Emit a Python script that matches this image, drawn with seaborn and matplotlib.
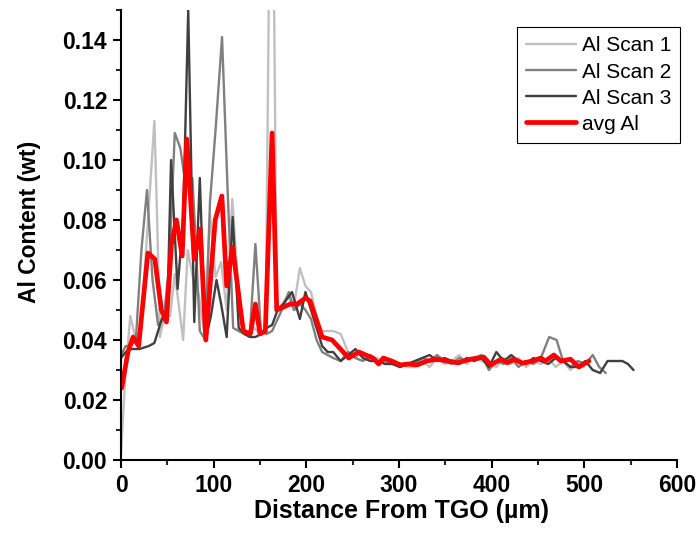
import matplotlib
matplotlib.use("Agg")
import matplotlib.pyplot as plt
import seaborn as sns
import pandas as pd
from matplotlib.ticker import MultipleLocator, FormatStrFormatter

# ---------------- data ----------------
scan1_x = [0, 5, 10, 16, 22, 28, 36, 39, 42, 48, 53, 58, 63, 67, 72, 78, 84, 90, 96, 102, 108,
           114, 120, 126, 132, 138, 144, 150, 156, 162.5, 168, 174, 180, 186, 193, 199, 205, 211,
           217, 223, 229, 237, 245, 253, 261, 269, 277, 285, 293, 301, 309, 317, 325, 333, 341,
           349, 357, 365, 373, 381, 389, 397, 405, 413, 421, 429, 437, 445, 453, 461, 469, 477,
           485, 493, 500]
scan1_y = [0.002, 0.030, 0.048, 0.040, 0.045, 0.075, 0.113, 0.080, 0.041, 0.050, 0.048, 0.062,
           0.050, 0.040, 0.070, 0.060, 0.055, 0.042, 0.082, 0.061, 0.066, 0.050, 0.087, 0.060,
           0.043, 0.042, 0.044, 0.042, 0.043, 0.250, 0.050, 0.052, 0.055, 0.050, 0.064, 0.058,
           0.056, 0.048, 0.043, 0.043, 0.043, 0.042, 0.036, 0.034, 0.036, 0.033, 0.034, 0.032,
           0.033, 0.032, 0.031, 0.031, 0.033, 0.031, 0.034, 0.032, 0.033, 0.035, 0.032, 0.034,
           0.033, 0.032, 0.031, 0.034, 0.032, 0.034, 0.031, 0.033, 0.032, 0.034, 0.031, 0.033,
           0.030, 0.033, 0.031]

scan2_x = [0, 5, 10, 16, 22, 28, 34, 40, 46, 52, 58, 64, 69, 77, 81, 85, 91, 96, 102, 109, 115,
           121, 127, 133, 139, 145, 151, 157, 163, 169, 175, 181, 187, 193, 199, 205, 211, 217,
           223, 229, 237, 245, 253, 261, 269, 277, 285, 293, 301, 309, 317, 325, 333, 341, 349,
           357, 365, 373, 381, 389, 397, 405, 413, 421, 429, 437, 445, 453, 462, 470, 477, 485,
           493, 501, 509, 516, 523]
scan2_y = [0.035, 0.038, 0.038, 0.040, 0.070, 0.090, 0.060, 0.045, 0.047, 0.065, 0.109, 0.104,
           0.093, 0.094, 0.070, 0.043, 0.040, 0.086, 0.110, 0.141, 0.090, 0.044, 0.043, 0.042,
           0.042, 0.072, 0.043, 0.042, 0.043, 0.047, 0.051, 0.056, 0.050, 0.052, 0.050, 0.047,
           0.040, 0.036, 0.035, 0.034, 0.033, 0.036, 0.034, 0.033, 0.035, 0.032, 0.033, 0.032,
           0.031, 0.032, 0.032, 0.034, 0.033, 0.035, 0.033, 0.032, 0.034, 0.033, 0.034, 0.035,
           0.030, 0.033, 0.032, 0.034, 0.031, 0.033, 0.032, 0.034, 0.041, 0.040, 0.033, 0.031,
           0.033, 0.032, 0.035, 0.031, 0.029]

scan3_x = [0, 5, 10, 20, 30, 36, 44, 50, 54, 61, 67, 72.5, 79, 85, 91, 97, 103, 108, 114, 120.5,
           127, 133, 139, 145, 151, 157, 163, 169, 175, 184.5, 193, 199, 205, 211, 217, 223, 229,
           237, 245, 253, 261, 269, 277, 285, 293, 301, 309, 317, 325, 333, 341, 349, 357, 365,
           373, 381, 389, 397, 405, 413, 421, 429, 437, 445, 453, 461, 469, 477, 485, 493, 501,
           509, 517, 525, 533, 541, 547, 553]
scan3_y = [0.034, 0.036, 0.037, 0.037, 0.038, 0.039, 0.047, 0.050, 0.100, 0.057, 0.080, 0.150,
           0.046, 0.094, 0.040, 0.048, 0.060, 0.052, 0.041, 0.081, 0.044, 0.042, 0.041, 0.041,
           0.042, 0.044, 0.045, 0.050, 0.052, 0.056, 0.047, 0.056, 0.050, 0.044, 0.038, 0.036,
           0.036, 0.033, 0.035, 0.037, 0.034, 0.033, 0.033, 0.032, 0.032, 0.031, 0.032, 0.033,
           0.034, 0.035, 0.033, 0.034, 0.033, 0.032, 0.034, 0.033, 0.034, 0.031, 0.036, 0.033,
           0.035, 0.033, 0.032, 0.034, 0.033, 0.032, 0.034, 0.033, 0.031, 0.031, 0.033, 0.030,
           0.029, 0.033, 0.033, 0.033, 0.032, 0.030]

avg_x = [0.7, 7.5, 13, 19, 29, 36.4, 43.6, 49, 54.4, 59.8, 66, 71, 79, 85.4, 91.5, 101.6, 108.8,
         114, 120.4, 128.6, 132, 139.5, 145, 150, 155.7, 163, 168, 175.5, 182.7, 190, 199, 204,
         217, 227.8, 236.7, 245.7, 256.5, 264, 272, 278, 283, 292, 301.6, 310, 319.6, 330, 341,
         352, 363, 377, 391.5, 399, 410, 417, 424, 433, 444, 453, 458, 467, 474.6, 485, 494, 505]
avg_y = [0.024, 0.036, 0.041, 0.038, 0.069, 0.067, 0.050, 0.046, 0.072, 0.080, 0.068, 0.107,
         0.067, 0.077, 0.040, 0.080, 0.088, 0.058, 0.071, 0.051, 0.043, 0.042, 0.052, 0.042,
         0.043, 0.109, 0.050, 0.051, 0.052, 0.052, 0.054, 0.053, 0.041, 0.040, 0.037, 0.034,
         0.036, 0.035, 0.034, 0.032, 0.034, 0.033, 0.0317, 0.032, 0.0317, 0.033, 0.0336, 0.033,
         0.0324, 0.0336, 0.0343, 0.0317, 0.0336, 0.0324, 0.0336, 0.0323, 0.033, 0.034, 0.033,
         0.035, 0.033, 0.0336, 0.031, 0.033]

series_names = ["Al Scan 1", "Al Scan 2", "Al Scan 3", "avg Al"]
series_colors = ["#c0c0c0", "#808080", "#404040", "#ff0000"]
series_widths = [1.7, 1.7, 1.7, 3.4]

x_label = "Distance From TGO (\u00b5m)"
y_label = "Al Content (wt)"

# ---------------- plot ----------------
sns.set_style("ticks")
plt.rcParams["font.family"] = ["Liberation Sans", "DejaVu Sans"]
plt.rcParams["text.color"] = "black"
plt.rcParams["axes.labelcolor"] = "black"

fig = plt.figure(figsize=(6.98, 5.44), dpi=100)
ax = fig.add_axes([0.1734, 0.1544, 0.7966, 0.8272])

data = [(scan1_x, scan1_y), (scan2_x, scan2_y), (scan3_x, scan3_y), (avg_x, avg_y)]
for (xs, ys), name, col, lw in zip(data, series_names, series_colors, series_widths):
    df = pd.DataFrame({"x": xs, "y": ys})
    sns.lineplot(data=df, x="x", y="y", ax=ax, color=col, linewidth=lw, label=name,
                 sort=False, estimator=None)

ax.set_xlim(0, 600)
ax.set_ylim(0, 0.15)
ax.xaxis.set_major_locator(MultipleLocator(100))
ax.xaxis.set_minor_locator(MultipleLocator(50))
ax.yaxis.set_major_locator(MultipleLocator(0.02))
ax.yaxis.set_minor_locator(MultipleLocator(0.01))
ax.yaxis.set_major_formatter(FormatStrFormatter("%.2f"))

for s in ["top", "right"]:
    ax.spines[s].set_visible(False)
for s in ["left", "bottom"]:
    ax.spines[s].set_linewidth(1.5)
    ax.spines[s].set_color("black")

ax.tick_params(axis="both", which="major", direction="out", length=6, width=1.5,
               labelsize=16.5, colors="black", pad=4)
ax.tick_params(axis="both", which="minor", direction="out", length=3.5, width=1.5)
for lab in ax.get_xticklabels() + ax.get_yticklabels():
    lab.set_fontweight("bold")

ax.set_xlabel(x_label, fontsize=18, fontweight="bold", color="black")
ax.set_ylabel(y_label, fontsize=16.5, fontweight="bold", color="black")
ax.xaxis.label.set_va("center")
ax.yaxis.label.set_va("center")
ax.xaxis.set_label_coords(0.505, -0.114)
ax.yaxis.set_label_coords(-0.164, 0.529)

leg = ax.legend(loc="upper right", bbox_to_anchor=(1.006, 0.962), fontsize=15,
                frameon=True, fancybox=False, edgecolor="black", framealpha=1,
                handlelength=2.4, handletextpad=0.25, borderpad=0.45, labelspacing=0.34,
                borderaxespad=0.0)
leg.get_frame().set_linewidth(0.8)

fig.savefig("out.png", dpi=100)
